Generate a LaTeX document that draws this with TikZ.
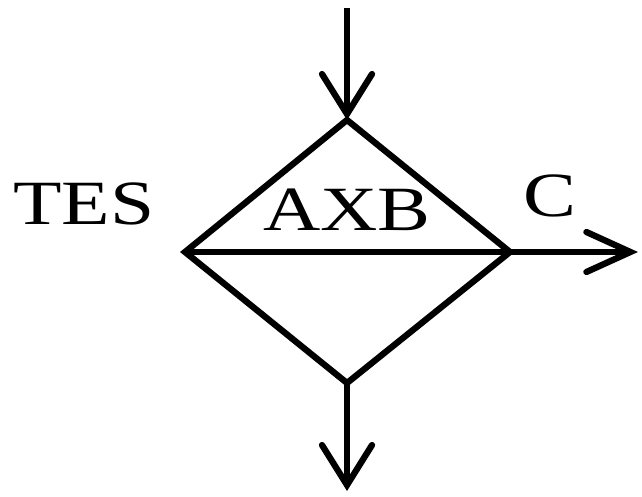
\documentclass[tikz,border=0pt]{standalone}
\usepackage{fontspec}
\setmainfont{Liberation Serif}
\usetikzlibrary{arrows.meta}
\newcommand{\wide}[1]{\scalebox{1.26}[1]{#1}}
\begin{document}
\begin{tikzpicture}[x=1pt,y=-1pt,
  edge/.style={line width=6.3pt},
  vtip/.style={-{Straight Barb[length=40pt,width=50pt,line cap=round]}},
  htip/.style={-{Straight Barb[length=44pt,width=40pt,line cap=round]}},
  lbl/.style={font=\fontsize{63}{63}\selectfont, inner sep=0pt}]
\useasboundingbox (0,0) rectangle (642,497);
\coordinate (T) at (347,120);
\coordinate (R) at (510,252);
\coordinate (B) at (347,383);
\coordinate (L) at (185,252);
\coordinate (in) at (347,8);
\coordinate (out) at (347,491);
\coordinate (yes) at (638,252);
\draw[edge] (T) -- (R) -- (B) -- (L) -- cycle;
\draw[edge] (L) -- (R);
\draw[edge,vtip] (in) -- (T);
\draw[edge,vtip] (B) -- (out);
\draw[edge,htip] (R) -- (yes);
\node[lbl] (tes) at (84,204) {\wide{TES}};
\node[lbl] (axb) at (347,210) {\wide{AXB}};
\node[lbl] (c) at (550,196) {\wide{C}};
\end{tikzpicture}
\end{document}
